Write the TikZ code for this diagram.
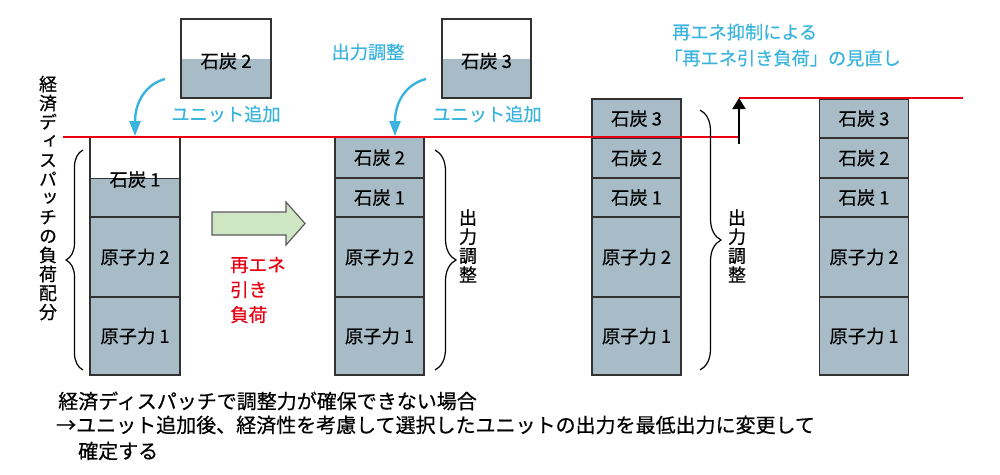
\documentclass[tikz,border=0pt]{standalone}
\usepackage{fontspec}
\setmainfont{Noto Sans CJK JP}[FakeBold=0.5]
\newfontfamily\vfont{Noto Sans CJK JP}[RawFeature=+vert, FakeBold=0.5]
\usetikzlibrary{decorations.pathreplacing,arrows.meta,calc}
\definecolor{unitfill}{RGB}{168,188,200}
\definecolor{edge}{RGB}{50,50,50}
\definecolor{cblue}{RGB}{58,180,220}
\definecolor{cred}{RGB}{230,0,18}
\definecolor{gfill}{RGB}{206,230,196}
\begin{document}
\begin{tikzpicture}[x=1pt,y=-1pt,
  seg/.style={draw=edge, fill=unitfill, line width=1.3pt, minimum width=89pt, inner sep=0pt, outer sep=0pt, font=\fontsize{18.3}{20}\selectfont},
  segfill/.style={fill=unitfill, draw=none, minimum width=89pt, inner sep=0pt, outer sep=0pt},
  outline/.style={draw=edge, fill=none, line width=1.3pt, minimum width=89pt, inner sep=0pt, outer sep=0pt},
  lbl/.style={inner sep=0pt, font=\fontsize{18.3}{20}\selectfont},
  bluetxt/.style={text=cblue, inner sep=0pt, font=\fontsize{18.2}{24}\selectfont},
  vlabel/.style={inner sep=0pt, align=center, font=\vfont\fontsize{18}{19}\selectfont},
  bottomtxt/.style={inner sep=0pt, anchor=west, font=\fontsize{20}{25}\selectfont},
  redline/.style={draw=cred, line width=2pt},
  bluearrow/.style={draw=cblue, line width=2.4pt, -{Triangle[length=15pt,width=11pt]}},
  bracestyle/.style={draw=black, line width=1.2pt, decorate, decoration={brace, amplitude=#1}},
]
\useasboundingbox (0,0) rectangle (1000,474);

% ---- top boxes ----
\node[segfill, minimum height=39pt] (t2f) at (226,78.5) {};
\node[outline, minimum height=79pt, minimum width=90pt] (t2) at (226,58.5) {};
\node[lbl] (t2l) at (226,61) {石炭 2};
\node[segfill, minimum height=39pt] (t3f) at (486.5,78.5) {};
\node[outline, minimum height=79pt] (t3) at (486.5,58.5) {};
\node[lbl] (t3l) at (486.5,61) {石炭 3};

% ---- column 1 ----
\node[seg, minimum width=90pt, minimum height=39pt] (c1s1) at (135,197.5) {};
\node[seg, minimum width=90pt, minimum height=80pt] (c1n2) at (135,257) {原子力 2};
\node[seg, minimum width=90pt, minimum height=78pt] (c1n1) at (135,336) {原子力 1};
\node[outline, minimum width=90pt, minimum height=238pt] (c1) at (135,256) {};
\draw[draw=edge, line width=1.3pt] (c1s1.north west) -- (c1s1.north east);
\fill[white] ($(c1s1.north west)+(0.65,-0.1)$) rectangle ($(c1s1.north east)+(-0.65,-0.8)$);
\node[lbl] (c1s1l) at (135,179.5) {石炭 1};

% ---- column 2 ----
\node[seg, minimum height=41pt] (c2s2) at (379.5,157.5) {石炭 2};
\node[seg, minimum height=39pt] (c2s1) at (379.5,197.5) {石炭 1};
\node[seg, minimum height=80pt] (c2n2) at (379.5,257) {原子力 2};
\node[seg, minimum height=78pt] (c2n1) at (379.5,336) {原子力 1};

% ---- column 3 ----
\node[seg, minimum height=39pt] (c3s3) at (636.5,118.5) {石炭 3};
\node[seg, minimum height=40pt] (c3s2) at (636.5,158) {石炭 2};
\node[seg, minimum height=39pt] (c3s1) at (636.5,197.5) {石炭 1};
\node[seg, minimum height=80pt] (c3n2) at (636.5,257) {原子力 2};
\node[seg, minimum height=78pt] (c3n1) at (636.5,336) {原子力 1};

% ---- column 4 ----
\node[seg, minimum height=39pt] (c4s3) at (864,118.5) {石炭 3};
\node[seg, minimum height=40pt] (c4s2) at (864,158) {石炭 2};
\node[seg, minimum height=39pt] (c4s1) at (864,197.5) {石炭 1};
\node[seg, minimum height=80pt] (c4n2) at (864,257) {原子力 2};
\node[seg, minimum height=78pt] (c4n1) at (864,336) {原子力 1};

% ---- red lines and black arrow ----
\coordinate (r1s) at (63,137);
\coordinate (r1e) at (739,137);
\coordinate (r2s) at (739,98);
\coordinate (r2e) at (963,98);
\draw[redline] (r1s) -- (r1e);
\draw[redline] (r2s) -- (r2e);
\coordinate (upb) at (739,144);
\draw[line width=2pt, -{Triangle[length=11pt,width=13pt]}] (upb) -- (r2s);

% ---- blue curved arrows ----
\coordinate (a1s) at (165,79);
\coordinate (a1e) at (135,136);
\draw[bluearrow] (a1s) .. controls (146,84) and (135,102) .. (a1e);
\coordinate (a2s) at (426,79);
\coordinate (a2e) at (395,136);
\draw[bluearrow] (a2s) .. controls (406,84) and (395,102) .. (a2e);

% ---- blue labels ----
\node[bluetxt] (u1) at (226,114) {ユニット追加};
\node[bluetxt] (u2) at (487,114) {ユニット追加};
\node[bluetxt] (adj) at (368,52) {出力調整};
\node[bluetxt, anchor=west] (rv1) at (672,32) {再エネ抑制による};
\node[bluetxt, anchor=west] (rv2) at (664,58) {「再エネ引き負荷」の見直し};

% ---- green arrow ----
\draw[draw=edge!80, line width=1.2pt, fill=gfill] (212,212) -- (286,212) -- (286,202) -- (305,223.5) -- (286,245) -- (286,235) -- (212,235) -- cycle;

% ---- red text ----
\node[inner sep=0pt, align=left, anchor=west, text=cred, font=\fontsize{18.5}{25}\selectfont] (rtxt) at (230,290) {再エネ\\引き\\負荷};

% ---- braces ----
\draw[bracestyle=17pt] (83,370) -- (83,150);
\draw[bracestyle=21pt] (435,150) -- (435,370);
\draw[bracestyle=21pt] (700,110) -- (700,370);

% ---- vertical labels ----
\node[vlabel] (vleft) at (48,198) {経\\済\\デ\\ィ\\ス\\パ\\ッ\\チ\\の\\負\\荷\\配\\分};
\node[vlabel] (v2) at (468,246) {出\\力\\調\\整};
\node[vlabel] (v3) at (737,246) {出\\力\\調\\整};

% ---- bottom text ----
\node[bottomtxt] (b1) at (58,401) {経済ディスパッチで調整力が確保できない場合};
\node[bottomtxt] (b2) at (56,425) {→ユニット追加後、経済性を考慮して選択したユニットの出力を最低出力に変更して};
\node[bottomtxt] (b3) at (78,451) {確定する};
\end{tikzpicture}
\end{document}
